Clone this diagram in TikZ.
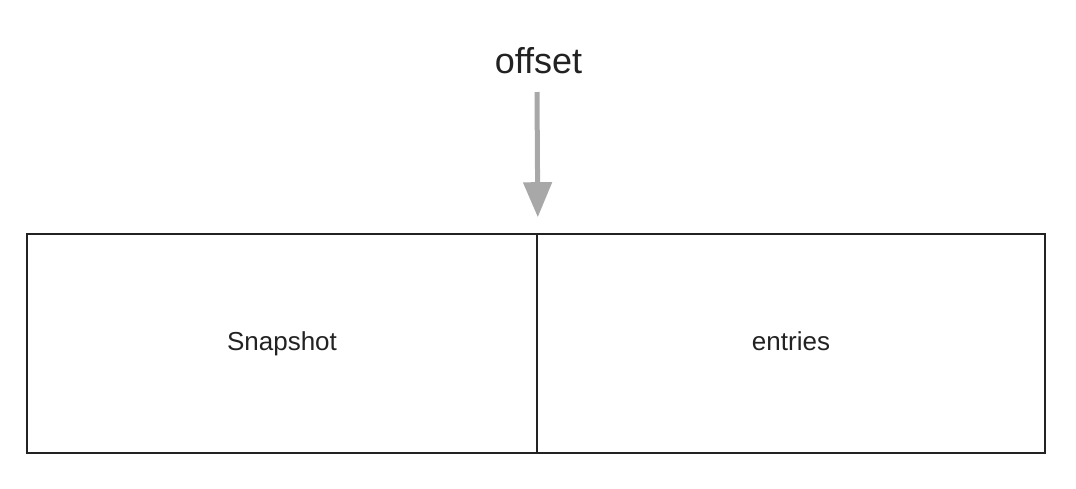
\documentclass[tikz,border=0pt]{standalone}
\usepackage{fontspec}
\setmainfont{Liberation Sans}
\usetikzlibrary{arrows.meta}
\definecolor{linec}{HTML}{222222}
\definecolor{arrowc}{HTML}{A8A8A8}
\tikzset{
  cell/.style={draw=linec, line width=1.6pt, minimum height=219pt, inner sep=0pt,
    text height=18.6pt, text depth=5pt, text=linec,
    font=\fontsize{26}{30}\selectfont},
  ptr/.style={draw=arrowc, line width=5pt,
    -{Triangle[width=28pt,length=35pt]}, arrowc},
  lab/.style={font=\fontsize{36}{42}\selectfont, text=linec, inner sep=0pt}
}
\begin{document}
\begin{tikzpicture}[x=1pt,y=-1pt]
  \useasboundingbox (0,0) rectangle (1076,488);
  \node[cell, minimum width=510pt] (snap) at (282,343.5) {Snapshot};
  \node[cell, minimum width=508pt] (ent) at (791,343.5) {entries};
  \node[lab, anchor=base] (off) at (538.5,73) {offset};
  \coordinate (astart) at (537,92);
  \draw[ptr] (astart) -- ([yshift=16pt]snap.north east);
\end{tikzpicture}
\end{document}
